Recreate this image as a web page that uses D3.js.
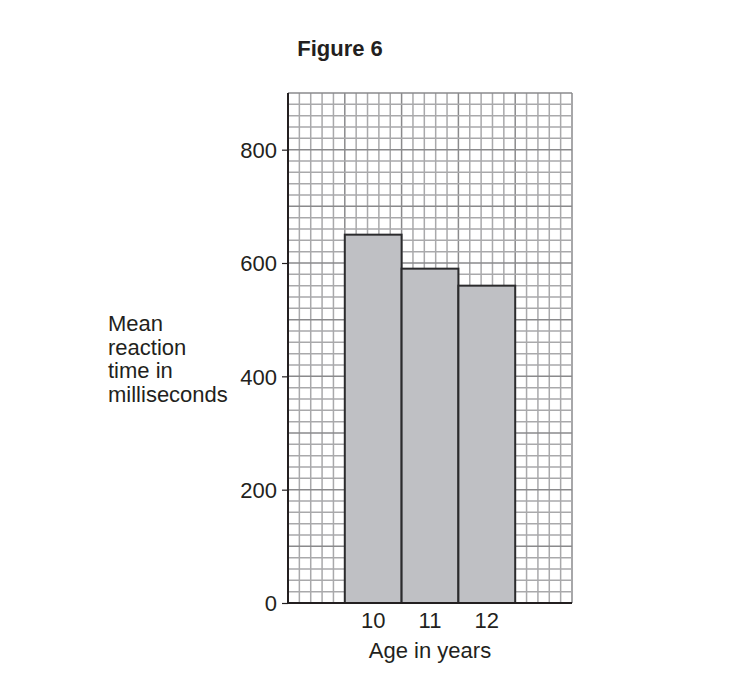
<!DOCTYPE html>
<html>
<head>
<meta charset="utf-8">
<script src="https://cdn.jsdelivr.net/npm/d3@7"></script>
<style>
  body { margin: 0; background: #fff; }
  text { font-family: "Liberation Sans", Arial, sans-serif; fill: #231f20; }
</style>
</head>
<body>
<svg id="chart"></svg>
<script>
const ages = ["10", "11", "12"];
const meanTimes = [650, 590, 560];
const yTicks = [0, 200, 400, 600, 800];
const yLabelLines = ["Mean", "reaction", "time in", "milliseconds"];

const width = 738, height = 682;
const svg = d3.select("#chart").attr("width", width).attr("height", height);

// grid area
const gLeft = 288, gRight = 572, gTop = 93, gBottom = 603;
const cellsX = 25, yMax = 900, cellUnit = 20;

const x = d3.scaleLinear().domain([0, cellsX]).range([gLeft, gRight]);
const y = d3.scaleLinear().domain([0, yMax]).range([gBottom, gTop]);

// bars sit on cells 5-10, 10-15, 15-20
const barX = d3.scaleBand().domain(ages).range([x(5), x(20)]).padding(0);

const grid = svg.append("g");
d3.range(0, cellsX + 1).forEach(i => {
  grid.append("line")
      .attr("x1", x(i)).attr("x2", x(i))
      .attr("y1", gTop).attr("y2", gBottom)
      .attr("stroke", i % 5 === 0 ? "#8a8a8c" : "#a9a9ab")
      .attr("stroke-width", 1.5);
});
d3.range(0, yMax + 1, cellUnit).forEach(v => {
  grid.append("line")
      .attr("x1", gLeft).attr("x2", gRight)
      .attr("y1", y(v)).attr("y2", y(v))
      .attr("stroke", v % 100 === 0 ? "#8a8a8c" : "#a9a9ab")
      .attr("stroke-width", 1.5);
});

// bars
svg.selectAll("rect.bar")
   .data(ages)
   .enter()
   .append("rect")
   .attr("class", "bar")
   .attr("x", d => barX(d))
   .attr("y", (d, i) => y(meanTimes[i]))
   .attr("width", barX.bandwidth())
   .attr("height", (d, i) => y(0) - y(meanTimes[i]))
   .attr("fill", "#bfc0c4")
   .attr("stroke", "#2b2b2d")
   .attr("stroke-width", 2);

// axes
const yAxis = d3.axisLeft(y).tickValues(yTicks).tickSize(6).tickPadding(5);
const gy = svg.append("g").attr("transform", `translate(${gLeft},0)`).call(yAxis);
gy.select(".domain").remove();
gy.selectAll(".tick line").attr("stroke", "#231f20").attr("stroke-width", 1.2);
gy.selectAll(".tick text").style("font-size", "22px").attr("dy", "0.36em");

svg.append("line")
   .attr("x1", gLeft).attr("x2", gLeft)
   .attr("y1", gTop).attr("y2", gBottom + 1)
   .attr("stroke", "#231f20").attr("stroke-width", 2);
svg.append("line")
   .attr("x1", gLeft).attr("x2", gRight)
   .attr("y1", gBottom).attr("y2", gBottom)
   .attr("stroke", "#231f20").attr("stroke-width", 2);

const xAxis = d3.axisBottom(barX).tickSize(0).tickPadding(9);
const gx = svg.append("g").attr("transform", `translate(0,${gBottom})`).call(xAxis);
gx.select(".domain").remove();
gx.selectAll(".tick text").style("font-size", "22px");

// labels
svg.append("text")
   .attr("x", 340).attr("y", 56)
   .attr("text-anchor", "middle")
   .style("font-size", "22px").style("font-weight", "bold")
   .text("Figure 6");

svg.append("text")
   .attr("x", 430).attr("y", 658)
   .attr("text-anchor", "middle")
   .style("font-size", "22px")
   .text("Age in years");

const yl = svg.append("text").attr("x", 108).attr("y", 331).style("font-size", "22px");
yl.selectAll("tspan")
  .data(yLabelLines)
  .enter()
  .append("tspan")
  .attr("x", 108)
  .attr("dy", (d, i) => i === 0 ? 0 : 23.7)
  .text(d => d);
</script>
</body>
</html>
